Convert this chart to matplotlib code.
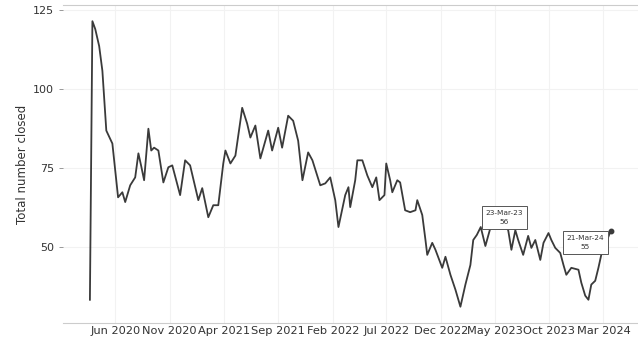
import matplotlib
matplotlib.use("Agg")
import matplotlib.pyplot as plt
import matplotlib.dates as mdates
import pandas as pd

dates = [
    "2020-03-22", "2020-03-29", "2020-04-06", "2020-04-17", "2020-04-26", "2020-05-07",
    "2020-05-24", "2020-06-09", "2020-06-21", "2020-06-29", "2020-07-13", "2020-07-27",
    "2020-08-05", "2020-08-13", "2020-08-21", "2020-09-02", "2020-09-10", "2020-09-18",
    "2020-09-30", "2020-10-14", "2020-10-28", "2020-11-08", "2020-11-30", "2020-12-14",
    "2020-12-28", "2021-01-20", "2021-01-31", "2021-02-17", "2021-03-03", "2021-03-17",
    "2021-03-31", "2021-04-06", "2021-04-20", "2021-05-04", "2021-05-18", "2021-05-23",
    "2021-06-06", "2021-06-15", "2021-06-29", "2021-07-13", "2021-08-04", "2021-08-15",
    "2021-09-01", "2021-09-12", "2021-09-29", "2021-10-13", "2021-10-27", "2021-11-08",
    "2021-11-24", "2021-12-06", "2021-12-28", "2022-01-11", "2022-01-25", "2022-02-08",
    "2022-02-17", "2022-03-08", "2022-03-17", "2022-03-22", "2022-04-05", "2022-04-11",
    "2022-04-25", "2022-05-09", "2022-05-23", "2022-06-03", "2022-06-12", "2022-06-26",
    "2022-07-01", "2022-07-12", "2022-07-18", "2022-08-01", "2022-08-09", "2022-08-23",
    "2022-09-06", "2022-09-21", "2022-09-26", "2022-10-10", "2022-10-19", "2022-10-24",
    "2022-11-07", "2022-11-16", "2022-12-05", "2022-12-14", "2022-12-28", "2023-01-11",
    "2023-01-25", "2023-02-08", "2023-02-22", "2023-03-02", "2023-03-12", "2023-03-23",
    "2023-04-05", "2023-04-19", "2023-05-03", "2023-05-14", "2023-05-25", "2023-06-08",
    "2023-06-17", "2023-06-28", "2023-07-06", "2023-07-20", "2023-08-03", "2023-08-12",
    "2023-08-23", "2023-09-06", "2023-09-15", "2023-09-29", "2023-10-07", "2023-10-18",
    "2023-11-01", "2023-11-10", "2023-11-18", "2023-12-02", "2023-12-22", "2023-12-30",
    "2024-01-10", "2024-01-19", "2024-01-27", "2024-02-07", "2024-02-16", "2024-02-24",
    "2024-03-06", "2024-03-21",
]
values = [
    33.3, 121.4, 118.9, 113.5, 105.7, 86.8,
    82.7, 65.7, 67.3, 64.2, 69.5, 72.0,
    79.6, 75.5, 71.1, 87.4, 80.5, 81.4,
    80.5, 70.4, 75.2, 75.8, 66.4, 77.4,
    75.8, 64.8, 68.6, 59.4, 63.2, 63.2,
    76.4, 80.5, 76.4, 78.9, 89.9, 94.0,
    89.0, 84.6, 88.4, 78.0, 86.8, 80.5,
    87.7, 81.4, 91.5, 89.9, 83.6, 71.1,
    79.9, 77.4, 69.5, 70.1, 72.0, 64.8,
    56.3, 66.4, 68.9, 62.6, 71.1, 77.4,
    77.4, 72.6, 68.9, 72.0, 64.8, 66.4,
    76.4, 71.1, 67.3, 71.1, 70.4, 61.6,
    61.0, 61.6, 64.8, 60.1, 52.2, 47.5,
    51.3, 49.1, 43.4, 46.9, 41.2, 36.5,
    31.1, 38.1, 44.3, 52.2, 53.8, 56.3,
    50.3, 56.0, 57.2, 56.6, 57.5, 55.3,
    49.1, 55.3, 52.2, 47.5, 53.5, 49.7,
    52.2, 45.9, 51.3, 54.4, 52.2, 49.7,
    48.1, 44.3, 41.2, 43.4, 42.8, 38.7,
    34.6, 33.3, 38.1, 39.3, 43.4, 47.5,
    50.6, 55.0,
]
tick_dates = ["2020-06-01", "2020-11-01", "2021-04-01", "2021-09-01", "2022-02-01",
              "2022-07-01", "2022-12-01", "2023-05-01", "2023-10-01", "2024-03-01"]
y_ticks = [50, 75, 100, 125]
annotated_dates = ["2023-03-23", "2024-03-21"]

x = pd.to_datetime(dates)
s = pd.Series(values, index=x)

fig = plt.figure(figsize=(6.38, 3.37), dpi=100)
ax = fig.add_axes([0.099, 0.042, 0.901, 0.943])

ax.plot(s.index, s.values, color="#3a3a3a", lw=1.3, zorder=3)
ax.plot([s.index[-1]], [s.values[-1]], "o", color="#3a3a3a", ms=3.2, zorder=4)

offsets = [(17, 7), (-18, -8)]
for d, off in zip(annotated_dates, offsets):
    dt = pd.Timestamp(d)
    v = s.loc[dt]
    ax.annotate(f"{dt.strftime('%d-%b-%y')}\n{v:.0f}", xy=(dt, v),
                xytext=off, textcoords="offset points", ha="center", va="center",
                fontsize=5.3, color="#333333", zorder=5, linespacing=1.5,
                bbox=dict(boxstyle="square,pad=0.55", fc="white", ec="#555555", lw=0.7))

ax.set_xlim(pd.Timestamp("2020-01-07"), pd.Timestamp("2024-06-06"))
ax.set_ylim(26, 126.5)
ax.set_xticks(pd.to_datetime(tick_dates))
ax.xaxis.set_major_formatter(mdates.DateFormatter("%b %Y"))
ax.set_yticks(y_ticks)
ax.tick_params(axis="x", labelsize=8.2, length=0, pad=2, colors="#333333")
ax.tick_params(axis="y", labelsize=8, length=3, width=0.6, color="#888888", colors="#333333")
ax.set_ylabel("Total number closed", fontsize=8.5, color="#333333", labelpad=3)

ax.grid(True, color="#f2f2f2", lw=0.8, zorder=0)
for side in ["left", "right"]:
    ax.spines[side].set_visible(False)
for side in ["top", "bottom"]:
    ax.spines[side].set_color("#cccccc")
    ax.spines[side].set_linewidth(0.8)

fig.savefig("out.png", dpi=100)
